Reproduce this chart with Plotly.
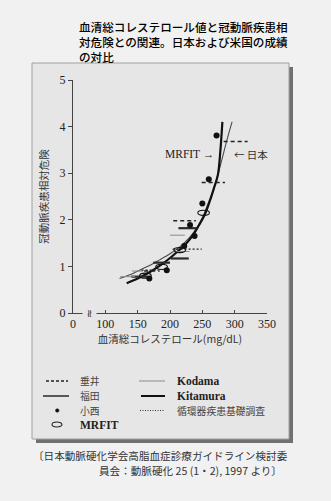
import plotly.graph_objects as go

# ---- data -------------------------------------------------------------
# relative-risk curves (serum total cholesterol mg/dL vs CHD relative risk)
mrfit_curve_x = [133, 150, 169, 185, 200, 215, 223, 235, 245, 254, 262, 268, 274, 278, 281]
mrfit_curve_y = [0.64, 0.74, 0.88, 1.02, 1.18, 1.36, 1.46, 1.66, 1.89, 2.12, 2.42, 2.68, 2.96, 3.50, 4.10]

japan_curve_x = [122, 140, 153, 170, 184, 200, 215, 230, 241, 250, 258, 265, 271, 280, 288, 296]
japan_curve_y = [0.74, 0.83, 0.92, 1.03, 1.14, 1.27, 1.42, 1.62, 1.82, 2.04, 2.32, 2.56, 2.81, 3.28, 3.71, 4.10]

# 垂井 (dashed horizontal bars)
tarui_y = [3.68, 2.80, 1.98, 0.90]
tarui_x0 = [283, 249, 205, 160]
tarui_x1 = [320, 285, 240, 184]

# 福田 (thick solid bars)
fukuda_y = [1.82, 1.17, 1.08, 0.78]
fukuda_x0 = [213, 201, 174, 140]
fukuda_x1 = [241, 229, 200, 166]

# Kodama (thin grey bars)
kodama_y = [1.67, 1.32, 0.90, 0.78]
kodama_x0 = [200, 203, 141, 123]
kodama_x1 = [223, 230, 158, 146]

# 循環器疾患基礎調査 (dotted bars)
junkanki_y = [1.37, 0.92]
junkanki_x0 = [204, 156]
junkanki_x1 = [249, 182]

# 小西 (filled dots)
konishi_x = [272, 260, 250, 231, 238, 222, 195, 168]
konishi_y = [3.81, 2.87, 2.35, 1.89, 1.65, 1.44, 0.92, 0.74]

# MRFIT (open ellipses)
mrfit_pt_x = [252, 215, 187, 162]
mrfit_pt_y = [2.15, 1.35, 0.99, 0.80]

x_tick_vals = [50, 100, 150, 200, 250, 300, 350]
x_tick_text = ["0", "100", "150", "200", "250", "300", "350"]
y_tick_vals = [0, 1, 2, 3, 4, 5]

# ---- helpers ------------------------------------------------------------
L, R, T, B = 73, 267, 80, 313          # plot area in pixels
W, H = 331, 501


def PX(px):
    return (px - L) / (R - L)


def PY(py):
    return (B - py) / (B - T)


def segments(ys, x0s, x1s):
    xs, yy = [], []
    for y, a, b in zip(ys, x0s, x1s):
        xs += [a, b, None]
        yy += [y, y, None]
    return xs, yy


SERIF = "Liberation Serif"
CJK = "Noto Sans CJK JP"
PANEL = "#e6e6e6"

fig = go.Figure()

fig.add_trace(go.Scatter(x=japan_curve_x, y=japan_curve_y, mode="lines",
                         line=dict(color="#4a4a4a", width=1.1, shape="spline")))
fig.add_trace(go.Scatter(x=mrfit_curve_x, y=mrfit_curve_y, mode="lines",
                         line=dict(color="#111", width=2.2, shape="spline")))

sx, sy = segments(tarui_y, tarui_x0, tarui_x1)
fig.add_trace(go.Scatter(x=sx, y=sy, mode="lines",
                         line=dict(color="#222", width=1.4, dash="4px,3px")))
sx, sy = segments(fukuda_y, fukuda_x0, fukuda_x1)
fig.add_trace(go.Scatter(x=sx, y=sy, mode="lines",
                         line=dict(color="#2a2a2a", width=2.2)))
sx, sy = segments(kodama_y, kodama_x0, kodama_x1)
fig.add_trace(go.Scatter(x=sx, y=sy, mode="lines",
                         line=dict(color="#8a8a8a", width=1)))
sx, sy = segments(junkanki_y, junkanki_x0, junkanki_x1)
fig.add_trace(go.Scatter(x=sx, y=sy, mode="lines",
                         line=dict(color="#222", width=1.4, dash="2px,2px")))

fig.add_trace(go.Scatter(x=konishi_x, y=konishi_y, mode="markers",
                         marker=dict(color="#111", size=6)))

shapes = []
# panel with drop shadow
shapes.append(dict(type="rect", xref="paper", yref="paper", layer="below",
                   x0=PX(36), x1=PX(293), y0=PY(443), y1=PY(67),
                   fillcolor="#707070", line=dict(width=0)))
shapes.append(dict(type="rect", xref="paper", yref="paper", layer="below",
                   x0=PX(32), x1=PX(289), y0=PY(439), y1=PY(63),
                   fillcolor=PANEL, line=dict(color="#a0a0a0", width=1)))

# MRFIT ellipses in data space
for x, y in zip(mrfit_pt_x, mrfit_pt_y):
    shapes.append(dict(type="circle", xref="x", yref="y",
                       x0=x - 9, x1=x + 9, y0=y - 0.055, y1=y + 0.055,
                       line=dict(color="#111", width=1.1)))

# legend rows (pixel y of each row)
ROWS = [381, 396, 410.5, 424.5]
shapes += [
    dict(type="line", xref="paper", yref="paper", x0=PX(46), x1=PX(68), y0=PY(ROWS[0]), y1=PY(ROWS[0]),
         line=dict(color="#222", width=1.4, dash="3px,2px")),
    dict(type="line", xref="paper", yref="paper", x0=PX(43), x1=PX(69), y0=PY(ROWS[1]), y1=PY(ROWS[1]),
         line=dict(color="#333", width=1.6)),
    dict(type="circle", xref="paper", yref="paper", x0=PX(55.5), x1=PX(59),
         y0=PY(ROWS[2] + 1.75), y1=PY(ROWS[2] - 1.75),
         fillcolor="#111", line=dict(color="#111", width=0.5)),
    dict(type="circle", xref="paper", yref="paper", x0=PX(52), x1=PX(62),
         y0=PY(ROWS[3] + 2.5), y1=PY(ROWS[3] - 2.5),
         line=dict(color="#222", width=1.1)),
    dict(type="line", xref="paper", yref="paper", x0=PX(139), x1=PX(165), y0=PY(ROWS[0]), y1=PY(ROWS[0]),
         line=dict(color="#8a8a8a", width=1)),
    dict(type="line", xref="paper", yref="paper", x0=PX(141), x1=PX(165), y0=PY(ROWS[1]), y1=PY(ROWS[1]),
         line=dict(color="#111", width=2)),
    dict(type="line", xref="paper", yref="paper", x0=PX(140), x1=PX(165), y0=PY(ROWS[2]), y1=PY(ROWS[2]),
         line=dict(color="#333", width=1, dash="1px,1.5px")),
]

ann = []
ann.append(dict(text="血清総コレステロール値と冠動脈疾患相<br>"
                     "対危険との関連。日本および米国の成績<br>"
                     "の対比",
                xref="paper", yref="paper", x=PX(77), y=PY(17),
                xanchor="left", yanchor="top", align="left", showarrow=False,
                font=dict(family=CJK, size=11.6, color="#000", weight=500)))

# axis break mark
ann.append(dict(text="≈", xref="paper", yref="paper", x=PX(90), y=PY(313),
                xanchor="center", yanchor="middle", showarrow=False, textangle=90,
                bgcolor=PANEL, borderpad=0,
                font=dict(family="DejaVu Sans", size=11, color="#333")))

# curve labels
ann.append(dict(text="MRFIT →", xref="paper", yref="paper", x=PX(216), y=PY(154),
                xanchor="right", yanchor="middle", showarrow=False,
                font=dict(family=SERIF, size=11.5, color="#222")))
ann.append(dict(text="← 日本", xref="paper", yref="paper", x=PX(232), y=PY(154),
                xanchor="left", yanchor="middle", showarrow=False,
                font=dict(family=CJK, size=10.5, color="#333")))

# legend labels
legend_rows = [
    (79, ROWS[0], "垂井", CJK, False), (79, ROWS[1], "福田", CJK, False),
    (79, ROWS[2], "小西", CJK, False), (79, ROWS[3], "MRFIT", SERIF, True),
    (176, ROWS[0], "Kodama", SERIF, True), (176, ROWS[1], "Kitamura", SERIF, True),
    (176, ROWS[2], "循環器疾患基礎調査", CJK, False),
]
for x, y, t, fam, bold in legend_rows:
    ann.append(dict(text=t, xref="paper", yref="paper", x=PX(x), y=PY(y),
                    xanchor="left", yanchor="middle", showarrow=False, borderpad=0,
                    font=dict(family=fam, size=11.5 if bold else 9.8,
                              color="#222" if bold else "#444",
                              weight="bold" if bold else "normal")))

# source caption
ann.append(dict(text="〔日本動脈硬化学会高脂血症診療ガイドライン検討委", xref="paper", yref="paper",
                x=PX(290), y=PY(455.5), xanchor="right", yanchor="middle", showarrow=False,
                font=dict(family=CJK, size=10.6, color="#333")))
ann.append(dict(text="員会：動脈硬化 25 (1・2), 1997 より〕", xref="paper", yref="paper",
                x=PX(284), y=PY(470.5), xanchor="right", yanchor="middle", showarrow=False,
                font=dict(family=CJK, size=10.6, color="#333")))

fig.update_layout(
    width=W, height=H,
    margin=dict(l=L, r=W - R, t=T, b=H - B, pad=0),
    paper_bgcolor="#f1f1f1",
    plot_bgcolor="rgba(0,0,0,0)",
    showlegend=False,
    shapes=shapes,
    annotations=ann,
    xaxis=dict(range=[50, 350], tickvals=x_tick_vals, ticktext=x_tick_text,
               showgrid=False, zeroline=False, showline=True, linecolor="#444", linewidth=1,
               ticks="inside", ticklen=3, tickcolor="#444",
               tickfont=dict(family=SERIF, size=12, color="#222"),
               title=dict(text="血清総コレステロール(mg/dL)", standoff=4,
                          font=dict(family=CJK, size=10.5, color="#333"))),
    yaxis=dict(range=[0, 5], tickvals=y_tick_vals,
               showgrid=False, zeroline=False, showline=True, linecolor="#444", linewidth=1,
               ticks="outside", ticklen=4, tickcolor="#444",
               tickfont=dict(family=SERIF, size=12, color="#222"),
               title=dict(text="冠動脈疾患相対危険", standoff=8,
                          font=dict(family=CJK, size=10.5, color="#333"))),
)

fig.write_html("out.html")
